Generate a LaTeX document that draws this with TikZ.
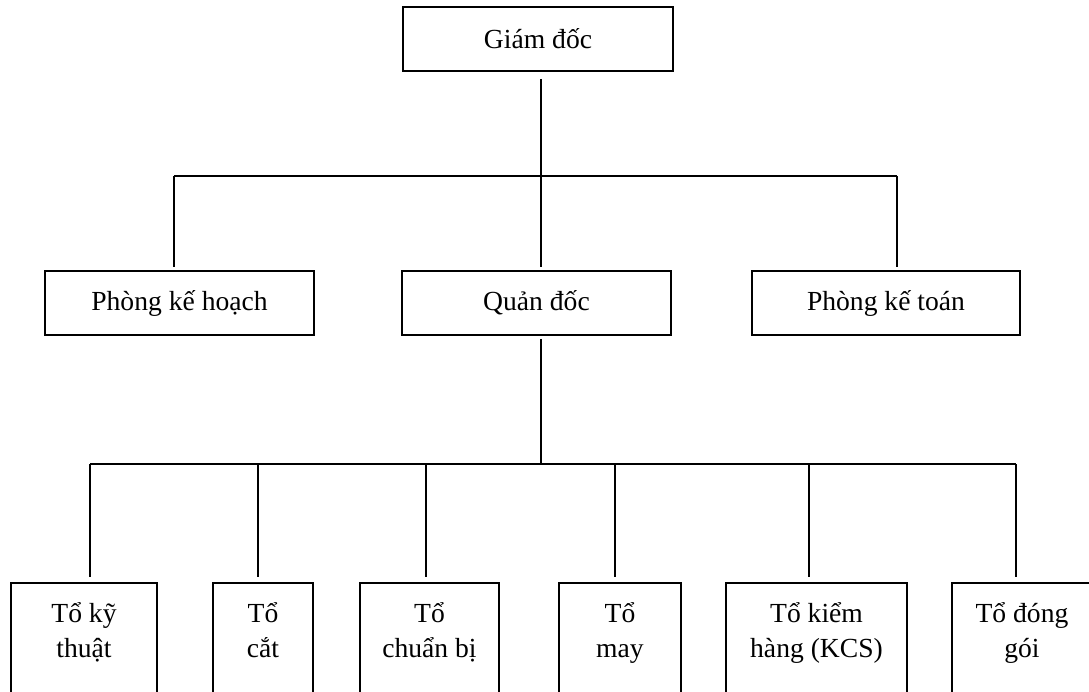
\documentclass[tikz,border=0pt]{standalone}
\usepackage{fontspec}
\setmainfont{Liberation Serif}
\usepackage{tikz}
\usetikzlibrary{positioning}

\tikzset{
  unit/.style={draw, line width=1.6pt, minimum height=64pt, inner sep=0pt},
  team/.style={draw, line width=1.6pt, minimum height=150pt, anchor=north, inner sep=0pt},
  teamtext/.style={align=center, inner sep=0pt, execute at begin node=\strut, execute at end node=\strut},
  link/.style={line width=1.2pt}
}

\begin{document}
\begin{tikzpicture}[x=1pt, y=-1pt, font=\fontsize{27.6}{35}\selectfont]

        \clip (0,0) rectangle (1089,692);

        % top level
        \node[unit, minimum width=270pt] (giamdoc) at (538,39) {Giám đốc};

        % second level
        \node[unit, minimum width=269pt] (kehoach) at (179.5,303) {Phòng kế hoạch};
        \node[unit, minimum width=269pt] (quandoc) at (536.5,303) {Quản đốc};
        \node[unit, minimum width=268pt] (ketoan) at (886,303) {Phòng kế toán};

        % teams
        \node[team, minimum width=146pt] (kythuat) at (84,582) {};
        \node[team, minimum width=100pt] (cat) at (263,582) {};
        \node[team, minimum width=139pt] (chuanbi) at (429.5,582) {};
        \node[team, minimum width=122pt] (may) at (620,582) {};
        \node[team, minimum width=181pt] (kiemhang) at (816.5,582) {};
        \node[team, minimum width=140pt] (donggoi) at (1022,582) {};

        \node[teamtext] (kythuat-t) at ([yshift=-53pt]kythuat.north) {Tổ kỹ\\thuật};
        \node[teamtext] (cat-t) at ([yshift=-53pt]cat.north) {Tổ\\cắt};
        \node[teamtext] (chuanbi-t) at ([yshift=-53pt]chuanbi.north) {Tổ\\chuẩn bị};
        \node[teamtext] (may-t) at ([yshift=-53pt]may.north) {Tổ\\may};
        \node[teamtext] (kiemhang-t) at ([yshift=-53pt]kiemhang.north) {Tổ kiểm\\hàng (KCS)};
        \node[teamtext] (donggoi-t) at ([yshift=-53pt]donggoi.north) {Tổ đóng\\gói};

        % upper tree
        \coordinate (bustop) at (541,176);
        \draw[link, shorten <=7pt] (giamdoc.south -| bustop) -- (bustop);
        \draw[link] (174,176) coordinate (busL) -- (897,176) coordinate (busR);
        \draw[link, shorten >=3pt] (busL) -- (busL |- kehoach.north);
        \draw[link, shorten >=3pt] (bustop) -- (bustop |- quandoc.north);
        \draw[link, shorten >=3pt] (busR) -- (busR |- ketoan.north);

        % lower tree
        \coordinate (busbot) at (541,464);
        \draw[link, shorten <=3pt] (quandoc.south -| busbot) -- (busbot);
        \draw[link] (90,464) -- (1016,464);
        \foreach \x/\t in {90/kythuat, 258/cat, 426/chuanbi, 615/may, 809/kiemhang, 1016/donggoi}
            \draw[link, shorten >=5pt] (\x,464) -- (\t.north -| \x,464);

\end{tikzpicture}
\end{document}
